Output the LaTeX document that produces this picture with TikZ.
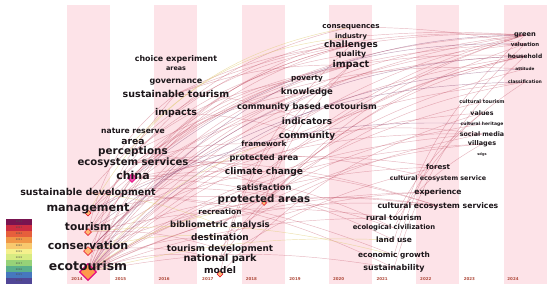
\documentclass[tikz,border=0pt]{standalone}
\usepackage{fontspec}
\setmainfont{DejaVu Sans}
\usepackage{xcolor}
\usetikzlibrary{shapes.geometric,positioning}
\definecolor{bandpink}{RGB}{253,227,232}
\definecolor{kwtext}{RGB}{28,22,26}
\definecolor{yeartext}{RGB}{175,75,60}
\definecolor{linkred}{RGB}{195,85,105}
\definecolor{linkpurple}{RGB}{125,55,105}
\definecolor{linkyellow}{RGB}{225,205,120}
\definecolor{lgA}{RGB}{120,20,80}
\definecolor{lgB}{RGB}{205,45,65}
\definecolor{lgC}{RGB}{230,95,60}
\definecolor{lgD}{RGB}{240,150,70}
\definecolor{lgE}{RGB}{248,200,110}
\definecolor{lgF}{RGB}{245,240,140}
\definecolor{lgG}{RGB}{215,235,130}
\definecolor{lgH}{RGB}{150,210,120}
\definecolor{lgI}{RGB}{90,175,140}
\definecolor{lgJ}{RGB}{70,120,190}
\definecolor{lgK}{RGB}{80,70,150}
\pgfdeclarelayer{back}
\pgfdeclarelayer{links}
\pgfsetlayers{back,links,main}

\begin{document}
\begin{tikzpicture}[
    x=1pt, y=-1pt,
    kw/.style={inner sep=0pt, text=kwtext, font=\bfseries\fontsize{#1}{#1}\selectfont},
    yr/.style={inner sep=0pt, text=yeartext, font=\bfseries\fontsize{4}{4}\selectfont},
    lgtext/.style={inner sep=0pt, text=black!70, font=\fontsize{2.4}{2.4}\selectfont},
    hub/.style={diamond, inner sep=0pt, minimum size=#1, draw=magenta!80!purple, line width=1.3pt, fill=orange!60!pink},
    dot/.style={diamond, inner sep=0pt, minimum size=#1, draw=red!55!purple, line width=.5pt, fill=orange!55},
    link/.style={draw=linkred, draw opacity=.42, line width=.45pt},
    linkp/.style={draw=linkpurple, draw opacity=.45, line width=.45pt},
    linky/.style={draw=linkyellow, draw opacity=.6, line width=.45pt}
]
\useasboundingbox (0,0) rectangle (550,289);

\begin{pgfonlayer}{back}
\foreach \i in {0,...,5}
    \fill[bandpink] ({67+87.3*\i},5) rectangle ++(43,279);
\end{pgfonlayer}

% year axis
\foreach \y [count=\i from 0] in {2014,...,2024}
    \node[yr] (y\y) at ({77+43.6*\i},279) {\y};

% legend
\foreach \c/\y [count=\i from 0] in {lgA/2024,lgB/2023,lgC/2022,lgD/2021,lgE/2020,lgF/2019,lgG/2018,lgH/2017,lgI/2016,lgJ/2015,lgK/2014} {
    \fill[\c] (6,{219+5.9*\i}) rectangle ++(26,5.9);
    \node[lgtext] (lg\y) at (19,{221.95+5.9*\i}) {\y};
}

% node markers
\node[hub=17pt] (dEco) at (88,272) {};
\node[dot=9pt] (dCons) at (88,251) {};
\node[dot=7pt] (dTour) at (88,232) {};
\node[dot=6pt] (dMgmt) at (88,213) {};
\node[hub=9pt, line width=.8pt, fill=magenta!70] (dChina) at (132,178) {};
\node[dot=6pt] (dModel) at (220,274) {};
\node[dot=5pt] (dPareas) at (264,203) {};

% 2014
\node[kw=12.4] (eco) at (88,266) {ecotourism};
\node[kw=11] (cons) at (88,245) {conservation};
\node[kw=10.6] (tour) at (88,227) {tourism};
\node[kw=11.2] (mgmt) at (88,209) {management};
\node[kw=9.5] (sdev) at (88,193) {sustainable development};
% 2015
\node[kw=11] (china) at (133,175) {china};
\node[kw=10.1] (ess) at (133,163) {ecosystem services};
\node[kw=10.4] (perc) at (133,152) {perceptions};
\node[kw=9.2] (area) at (133,142) {area};
\node[kw=7.6] (nres) at (133,131) {nature reserve};
% 2016
\node[kw=9.4] (impacts) at (176,113) {impacts};
\node[kw=9.5] (stour) at (176,94) {sustainable tourism};
\node[kw=8] (gov) at (176,82) {governance};
\node[kw=6.4] (areas) at (176,69) {areas};
\node[kw=7.9] (choice) at (176,59) {choice experiment};
% 2017
\node[kw=9.2] (model) at (220,270) {model};
\node[kw=9.7] (npark) at (220,259) {national park};
\node[kw=8.8] (tdev) at (220,249) {tourism development};
\node[kw=9] (dest) at (220,237) {destination};
\node[kw=8.5] (biblio) at (220,225) {bibliometric analysis};
\node[kw=7.4] (recr) at (220,212) {recreation};
% 2018
\node[kw=10.3] (pareas) at (264,200) {protected areas};
\node[kw=8.3] (satis) at (264,187) {satisfaction};
\node[kw=9.1] (climate) at (264,172) {climate change};
\node[kw=8.2] (parea) at (264,158) {protected area};
\node[kw=7.4] (frame) at (264,144) {framework};
% 2019
\node[kw=9] (comm) at (307,136) {community};
\node[kw=8.9] (indic) at (307,121) {indicators};
\node[kw=8.4] (cbe) at (307,107) {community based ecotourism};
\node[kw=8.5] (know) at (307,92) {knowledge};
\node[kw=7.3] (pov) at (307,79) {poverty};
% 2020
\node[kw=9.5] (impact) at (351,65) {impact};
\node[kw=7.7] (quality) at (351,54) {quality};
\node[kw=8.9] (chall) at (351,45) {challenges};
\node[kw=6.8] (indus) at (351,37) {industry};
\node[kw=7.2] (conseq) at (351,27) {consequences};
% 2021
\node[kw=8] (sust) at (394,268) {sustainability};
\node[kw=7.4] (egrowth) at (394,255) {economic growth};
\node[kw=7.5] (landuse) at (394,240) {land use};
\node[kw=6.8] (ecociv) at (394,228) {ecological civilization};
\node[kw=7.5] (rural) at (394,218) {rural tourism};
% 2022
\node[kw=7.7] (ces) at (438,206) {cultural ecosystem services};
\node[kw=7.6] (exper) at (438,192) {experience};
\node[kw=6.4] (cesv) at (438,179) {cultural ecosystem service};
\node[kw=7.1] (forest) at (438,167) {forest};
% 2023
\node[kw=3.5] (sdgs) at (482,155) {sdgs};
\node[kw=6.5] (vill) at (482,144) {villages};
\node[kw=6.3] (smedia) at (482,134) {social media};
\node[kw=4.5] (cherit) at (482,124) {cultural heritage};
\node[kw=6.3] (values) at (482,113) {values};
\node[kw=5] (ctour) at (482,102) {cultural tourism};
% 2024
\node[kw=4.6] (classif) at (525,82) {classification};
\node[kw=4.2] (attit) at (525,69) {attitude};
\node[kw=5.9] (house) at (525,56) {household};
\node[kw=5.4] (valu) at (525,44) {valuation};
\node[kw=6.7] (green) at (525,35) {green};

\begin{pgfonlayer}{links}
\foreach \a/\b/\c in {dEco/chall/25, dEco/impact/22, dEco/green/20, dEco/house/18, dEco/dChina/10,
    dEco/stour/15, dEco/cbe/18, dEco/comm/15, dEco/pareas/12, dEco/ces/15, dEco/smedia/15,
    dEco/values/18, dEco/exper/12, dEco/sust/10, dEco/rural/10, dEco/npark/15, dEco/dest/15,
    dEco/forest/15, dEco/vill/15, dEco/classif/18, dEco/know/20, dEco/indus/25,
    dCons/pareas/15, dCons/chall/25, dCons/green/20, dCons/climate/15, dCons/npark/10,
    dCons/ces/15, dCons/comm/18, dCons/valu/20,
    dTour/stour/20, dTour/rural/10, dTour/cbe/20, dTour/impact/22, dTour/smedia/15,
    dTour/conseq/25, dTour/tdev/10,
    dMgmt/pareas/10, dMgmt/know/20, dMgmt/green/20, dMgmt/impact/20, dMgmt/parea/15,
    sdev/egrowth/10, sdev/sust/12, sdev/ecociv/12, sdev/chall/20,
    dChina/impact/15, dChina/chall/18, dChina/ecociv/15, dChina/forest/10, dChina/ces/12,
    dChina/house/15, dChina/landuse/12,
    ess/ces/10, ess/cesv/10, ess/valu/15, ess/frame/10, ess/climate/10,
    perc/satis/10, perc/attit/15, perc/pov/15, perc/quality/15,
    stour/impact/10, stour/indic/10, stour/green/12, stour/chall/10,
    impacts/indus/12, impacts/comm/8,
    dPareas/green/15, dPareas/classif/15, dPareas/cbe/8, dPareas/ces/8, dPareas/impact/12,
    dPareas/vill/10,
    npark/house/20, npark/forest/10, npark/chall/15, dModel/impact/20, dModel/values/15,
    dest/exper/10, dest/smedia/10, biblio/cherit/12, biblio/ctour/12,
    comm/green/10, comm/smedia/8, comm/house/8,
    chall/green/5, impact/house/5, conseq/valu/5, indus/green/4,
    landuse/green/15, sust/house/15, egrowth/valu/15, rural/values/12, rural/vill/10,
    ecociv/classif/15, climate/green/10, satis/attit/10,
    tdev/valu/15, recr/house/15, frame/green/10}
    \draw[link] (\a.center) to[bend left=\c] (\b.center);
\foreach \a/\b/\c in {dEco/frame/15, dCons/dest/10, dEco/landuse/8, dTour/egrowth/10,
    dMgmt/conseq/25, dEco/recr/12, sdev/biblio/8, area/indus/20}
    \draw[linky] (\a.center) to[bend left=\c] (\b.center);
\foreach \a/\b/\c in {dEco/green/28, dEco/attit/22, dChina/valu/20, dCons/house/22,
    dTour/classif/18, dMgmt/cherit/15}
    \draw[linkp] (\a.center) to[bend left=\c] (\b.center);
\end{pgfonlayer}

\end{tikzpicture}
\end{document}
